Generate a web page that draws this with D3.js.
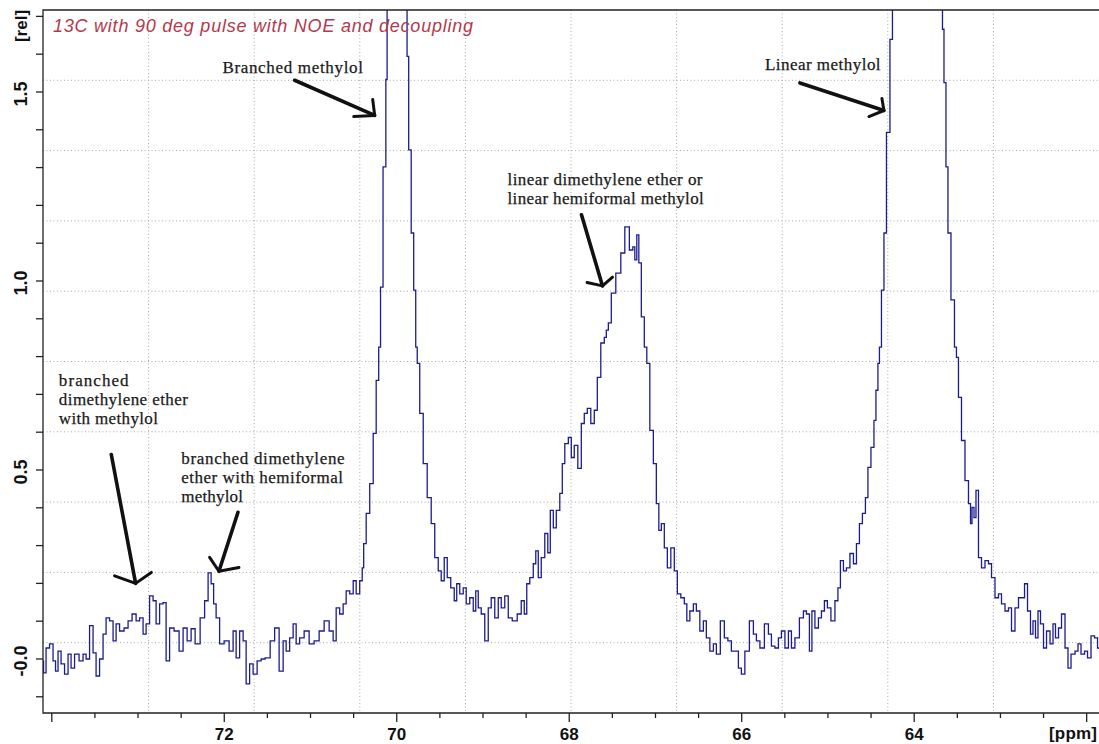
<!DOCTYPE html>
<html><head><meta charset="utf-8">
<script src="https://cdn.jsdelivr.net/npm/d3@7"></script>
<style>body{margin:0;background:#fff;}svg{display:block;}</style>
</head><body>
<svg id="chart" width="1099" height="744"></svg>
<script>
// ---------- DATA (chemical shift in ppm, relative intensity) ----------
const ppm = [
74.107,74.084,74.049,74.003,73.968,73.945,73.910,73.875,73.829,73.794,
73.759,73.713,73.655,73.620,73.585,73.539,73.504,73.469,73.423,73.388,
73.353,73.307,73.272,73.237,73.191,73.133,73.098,73.040,73.005,72.959,
72.924,72.889,72.843,72.808,72.773,72.727,72.692,72.657,72.611,72.553,
72.495,72.460,72.402,72.367,72.309,72.251,72.205,72.170,72.135,72.112,
72.077,72.031,71.973,71.915,71.880,71.845,71.799,71.764,71.729,71.683,
71.648,71.590,71.555,71.497,71.439,71.393,71.335,71.300,71.265,71.219,
71.184,71.149,71.103,71.045,70.987,70.929,70.871,70.813,70.755,70.720,
70.685,70.639,70.604,70.569,70.522,70.488,70.453,70.406,70.395,70.372,
70.337,70.290,70.256,70.221,70.198,70.178,70.140,70.113,70.111,70.000,
69.888,69.873,69.850,69.815,69.792,69.768,69.757,69.710,69.676,69.618,
69.583,69.536,69.502,69.467,69.432,69.397,69.351,69.316,69.293,69.246,
69.212,69.177,69.130,69.096,69.072,69.038,69.003,68.956,68.922,68.887,
68.840,68.806,68.771,68.724,68.690,68.632,68.574,68.539,68.504,68.481,
68.434,68.400,68.376,68.342,68.307,68.260,68.237,68.202,68.167,68.133,
68.086,68.075,68.028,67.993,67.959,67.924,67.877,67.843,67.808,67.773,
67.727,67.692,67.657,67.611,67.576,67.564,67.529,67.495,67.425,67.379,
67.332,67.274,67.251,67.228,67.205,67.181,67.147,67.112,67.089,67.042,
67.007,66.973,66.949,66.915,66.880,66.845,66.799,66.764,66.729,66.683,
66.648,66.625,66.578,66.543,66.509,66.462,66.427,66.393,66.346,66.311,
66.277,66.219,66.184,66.137,66.103,66.056,66.021,65.987,65.940,65.882,
65.847,65.812,65.766,65.708,65.673,65.638,65.592,65.557,65.522,65.476,
65.441,65.406,65.360,65.302,65.267,65.232,65.198,65.174,65.128,65.093,
65.058,65.024,64.989,64.942,64.896,64.873,64.838,64.803,64.768,64.722,
64.687,64.652,64.618,64.583,64.548,64.525,64.478,64.455,64.432,64.409,
64.397,64.362,64.339,64.304,64.258,64.246,63.968,63.678,63.666,63.643,
63.620,63.597,63.550,63.516,63.504,63.469,63.434,63.388,63.353,63.341,
63.318,63.295,63.272,63.237,63.202,63.156,63.121,63.086,63.040,63.005,
62.970,62.924,62.889,62.854,62.808,62.773,62.738,62.703,62.669,62.634,
62.611,62.576,62.553,62.518,62.483,62.448,62.402,62.379,62.344,62.309,
62.274,62.228,62.205,62.158,62.112,62.089,62.042,62.007,61.973,61.926,
61.891,61.857
];
const intensity = [
-0.005,-0.037,0.029,0.040,-0.005,-0.032,0.021,-0.013,-0.040,0.013,
-0.024,0.013,-0.005,0.013,0.000,0.088,0.016,-0.045,0.000,0.066,
0.109,0.101,0.048,0.093,0.074,0.082,0.101,0.119,0.101,0.109,
0.066,0.093,0.167,0.154,0.093,0.146,0.149,-0.005,0.082,0.074,
0.021,0.082,0.048,0.080,0.040,0.109,0.154,0.228,0.199,0.146,
0.109,0.040,0.048,0.021,0.074,0.003,0.074,0.048,-0.066,-0.013,
-0.040,-0.005,0.000,0.003,0.048,0.082,-0.032,0.048,0.021,0.056,
0.093,0.040,0.056,0.074,0.040,0.048,0.074,0.101,0.074,0.048,
0.135,0.119,0.146,0.180,0.172,0.207,0.172,0.207,0.241,0.305,
0.385,0.464,0.597,0.737,0.825,0.984,1.302,1.533,1.798,2.600,
1.798,1.594,1.347,1.127,0.976,0.825,0.782,0.650,0.517,0.427,
0.358,0.268,0.233,0.207,0.268,0.215,0.188,0.154,0.199,0.172,
0.188,0.146,0.162,0.127,0.180,0.135,0.119,0.048,0.135,0.162,
0.109,0.162,0.135,0.167,0.109,0.101,0.119,0.154,0.119,0.199,
0.215,0.252,0.286,0.215,0.268,0.332,0.281,0.393,0.347,0.393,
0.438,0.517,0.570,0.586,0.533,0.565,0.504,0.623,0.650,0.663,
0.623,0.658,0.745,0.836,0.851,0.870,0.889,0.968,1.021,1.074,
1.143,1.082,1.090,1.056,1.122,1.048,0.905,0.825,0.782,0.605,
0.517,0.411,0.340,0.358,0.294,0.241,0.294,0.233,0.172,0.162,
0.146,0.101,0.127,0.146,0.127,0.074,0.101,0.056,0.021,0.040,
0.013,0.101,0.056,0.048,0.021,0.021,-0.024,-0.040,0.021,0.101,
0.066,0.048,0.029,0.093,0.066,0.034,0.029,0.056,0.074,0.029,
0.074,0.029,0.056,0.109,0.127,0.119,0.021,0.127,0.082,0.109,
0.127,0.154,0.135,0.101,0.154,0.188,0.260,0.233,0.241,0.279,
0.252,0.305,0.358,0.385,0.427,0.507,0.560,0.631,0.711,0.782,
0.825,0.976,1.127,1.393,1.639,1.798,2.800,1.798,1.666,1.525,
1.302,1.127,0.950,0.825,0.798,0.692,0.578,0.472,0.411,0.358,
0.401,0.374,0.446,0.268,0.241,0.260,0.252,0.215,0.162,0.172,
0.146,0.127,0.135,0.074,0.135,0.162,0.162,0.199,0.127,0.066,
0.101,0.056,0.127,0.093,0.029,0.074,0.040,0.093,0.056,0.082,
0.119,0.029,-0.024,0.013,0.021,0.040,0.013,0.021,0.003,0.061,
0.056,0.029
];

// axis ticks & labels
const xMajorTicks = [74, 72, 70, 68, 66, 64, 62];
const xMajorLabels = ["", "72", "70", "68", "66", "64", ""];
const xMinorTicks = [73.5, 73, 72.5, 71.5, 71, 70.5, 69.5, 69, 68.5, 67.5, 67, 66.5, 65.5, 65, 64.5, 63.5, 63, 62.5];
const yTicks = [-0.1, 0, 0.1, 0.2, 0.3, 0.4, 0.5, 0.6, 0.7, 0.8, 0.9, 1.0, 1.1, 1.2, 1.3, 1.4, 1.5, 1.6, 1.7];
const yLabelValues = [0, 0.5, 1.0, 1.5];
const yLabelTexts = ["-0.0", "0.5", "1.0", "1.5"];
const xUnit = "[ppm]";
const yUnit = "[rel]";
const title = "13C with 90 deg pulse with NOE and decoupling";

// annotations (positions in data units: ppm, intensity)
const labelTexts = [
  ["Branched methylol"],
  ["Linear methylol"],
  ["linear dimethylene ether or", "linear hemiformal methylol"],
  ["branched", "dimethylene ether", "with methylol"],
  ["branched dimethylene", "ether with hemiformal", "methylol"]
];
const labelAnchors = [[72.022, 1.549], [65.731, 1.558], [68.716, 1.255], [73.918, 0.721], [72.498, 0.516]];
const labelWidths = [[140.6], [115.7], [195, 196.3], [69.7, 129, 99], [163.3, 161.6, 61.6]];
const arrowTails = [[71.184, 1.531], [65.325, 1.524], [67.858, 1.175], [73.310, 0.541], [71.841, 0.388]];
const arrowTips  = [[70.256, 1.438], [64.351, 1.451], [67.614, 0.987], [73.028, 0.200], [72.062, 0.232]];
const arrowBarbA = [[70.279, 1.480], [64.374, 1.483], [67.793, 0.996], [73.272, 0.220], [72.170, 0.269]];
const arrowBarbB = [[70.499, 1.435], [64.525, 1.435], [67.498, 1.010], [72.846, 0.229], [71.830, 0.242]];

// ---------- LAYOUT ----------
const L = 43, T = 10, R = 1099, B = 713;
const svg = d3.select("#chart");

const x = d3.scaleLinear().domain([74.102, 61.857]).range([L, R]);
const y = d3.scaleLinear().domain([-0.1429, 1.7169]).range([B, T]);

// grid (10 equal divisions, dotted)
const grid = svg.append("g").attr("stroke", "#a8a8a8").attr("stroke-width", 1).attr("stroke-dasharray", "1,2.5");
for (let i = 1; i < 10; i++) {
  const gx = L + (R - L) * i / 10;
  grid.append("line").attr("x1", gx).attr("x2", gx).attr("y1", T).attr("y2", B);
  const gy = T + (B - T) * i / 10;
  grid.append("line").attr("x1", L).attr("x2", R).attr("y1", gy).attr("y2", gy);
}

// clip
svg.append("clipPath").attr("id", "clip").append("rect")
  .attr("x", L).attr("y", T).attr("width", R - L).attr("height", B - T);

// spectrum
const pts = ppm.map((p, i) => [p, intensity[i]]);
const line = d3.line().x(d => x(d[0])).y(d => y(d[1])).curve(d3.curveStep);
svg.append("path").attr("clip-path", "url(#clip)")
  .attr("d", line(pts)).attr("fill", "none")
  .attr("stroke", "#1c1c90").attr("stroke-width", 1.3).attr("stroke-linejoin", "miter");

// frame
const frame = svg.append("g").attr("stroke", "#222").attr("stroke-width", 1.3).attr("fill", "none");
frame.append("path").attr("d", `M${R},${T}H${L}V${B}H${R}`);

// ticks
const axisG = svg.append("g").attr("stroke", "#222").attr("stroke-width", 1.3);
xMajorTicks.forEach(t => axisG.append("line").attr("x1", x(t)).attr("x2", x(t)).attr("y1", B).attr("y2", B + 9));
xMinorTicks.forEach(t => axisG.append("line").attr("x1", x(t)).attr("x2", x(t)).attr("y1", B).attr("y2", B + 5));
yTicks.forEach(t => axisG.append("line").attr("x1", L - 7).attr("x2", L).attr("y1", y(t)).attr("y2", y(t)));

const axFont = "'Liberation Sans', Arial, sans-serif";
xMajorTicks.forEach((t, i) => {
  if (!xMajorLabels[i]) return;
  svg.append("text").attr("x", x(t)).attr("y", 740).attr("text-anchor", "middle")
    .attr("font-family", axFont).attr("font-weight", "bold").attr("font-size", 17).attr("fill", "#111")
    .text(xMajorLabels[i]);
});
svg.append("text").attr("x", 1097).attr("y", 739).attr("text-anchor", "end")
  .attr("font-family", axFont).attr("font-weight", "bold").attr("font-size", 17).attr("fill", "#111")
  .attr("textLength", 48).attr("lengthAdjust", "spacing").text(xUnit);

yLabelValues.forEach((v, i) => {
  const yy = y(v) + 2;
  svg.append("text").attr("transform", `translate(27,${yy}) rotate(-90)`).attr("text-anchor", "middle")
    .attr("font-family", axFont).attr("font-weight", "bold").attr("font-size", 18).attr("fill", "#111")
    .text(yLabelTexts[i]);
});
svg.append("text").attr("transform", `translate(26.5,26) rotate(-90)`).attr("text-anchor", "middle")
  .attr("font-family", axFont).attr("font-weight", "bold").attr("font-size", 17).attr("fill", "#111")
  .text(yUnit);

// title
svg.append("text").attr("x", 53).attr("y", 31.5)
  .attr("font-family", axFont).attr("font-style", "italic").attr("font-size", 18).attr("fill", "#b3394c")
  .attr("textLength", 420).attr("lengthAdjust", "spacing").text(title);

// annotations
const serif = "'Liberation Serif', 'Times New Roman', serif";
labelTexts.forEach((lines, i) => {
  const ax = x(labelAnchors[i][0]), ay = y(labelAnchors[i][1]);
  lines.forEach((s, j) => {
    svg.append("text").attr("x", ax).attr("y", ay + j * 19)
      .attr("font-family", serif).attr("font-size", 17).attr("fill", "#1a1a1a")
      .attr("stroke", "#1a1a1a").attr("stroke-width", 0.25)
      .attr("textLength", labelWidths[i][j]).attr("lengthAdjust", "spacing").text(s);
  });
});
const arr = svg.append("g").attr("stroke", "#111").attr("fill", "none").attr("stroke-linecap", "round").attr("stroke-linejoin", "round");
arrowTails.forEach((t, i) => {
  arr.append("line").attr("x1", x(t[0])).attr("y1", y(t[1])).attr("x2", x(arrowTips[i][0])).attr("y2", y(arrowTips[i][1]))
    .attr("stroke-width", 3.6);
  arr.append("path").attr("stroke-width", 3)
    .attr("d", `M${x(arrowBarbA[i][0])},${y(arrowBarbA[i][1])}L${x(arrowTips[i][0])},${y(arrowTips[i][1])}L${x(arrowBarbB[i][0])},${y(arrowBarbB[i][1])}`);
});
</script>
</body></html>
